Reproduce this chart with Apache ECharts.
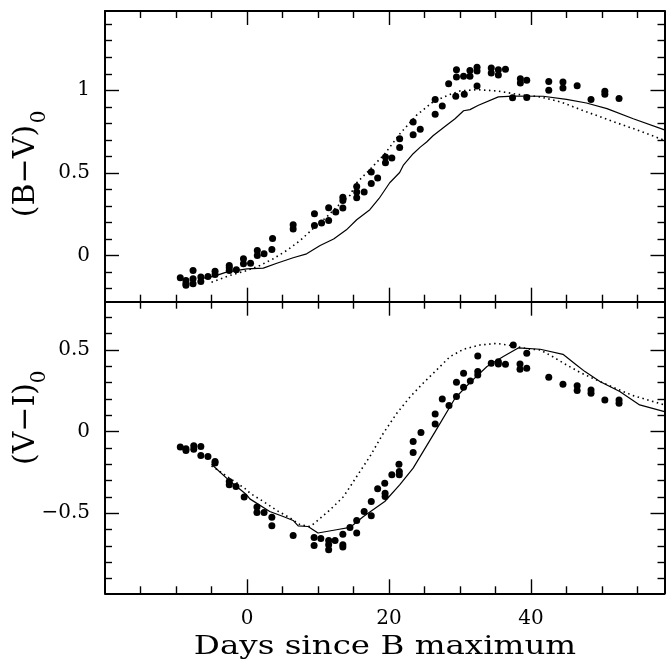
<!DOCTYPE html>
<html><head><meta charset="utf-8">
<script src="https://cdn.jsdelivr.net/npm/echarts@6/dist/echarts.min.js"></script>
<style>html,body{margin:0;padding:0;background:#fff}#c{width:666px;height:669px}</style>
</head><body><div id="c"></div>
<script>
// ---- tick labels / tick positions ----
const xTicksMajor = [0, 20, 40];
const xTicksMinor = [-15, -10, -5, 5, 10, 15, 25, 30, 35, 45, 50, 55];
const bvTicksMajor = [0, 0.5, 1];
const bvTicksMinor = [-0.2, -0.1, 0.1, 0.2, 0.3, 0.4, 0.6, 0.7, 0.8, 0.9, 1.1, 1.2, 1.3, 1.4];
const viTicksMajor = [-0.5, 0, 0.5];
const viTicksMinor = [-0.9, -0.8, -0.7, -0.6, -0.4, -0.3, -0.2, -0.1, 0.1, 0.2, 0.3, 0.4, 0.6, 0.7];

// ---- (B-V)0 observed ----
const bvObs = [
[-9.4,-0.135],[-8.6,-0.152],[-8.6,-0.18],[-8.6,-0.17],[-7.6,-0.091],[-7.6,-0.141],[-7.6,-0.172],
[-6.5,-0.13],[-6.5,-0.158],[-5.5,-0.127],[-4.5,-0.095],[-4.5,-0.115],[-2.5,-0.061],[-2.5,-0.091],
[-2.5,-0.075],[-1.5,-0.087],[-0.5,-0.02],[-0.5,-0.05],[0.5,-0.047],[1.45,0.03],[1.45,0.0],[2.4,0.01],
[3.5,0.036],[3.6,0.103],[6.5,0.186],[6.5,0.16],[9.5,0.253],[9.5,0.182],[10.5,0.196],[11.5,0.289],
[11.5,0.212],[12.5,0.263],[13.5,0.353],[13.5,0.333],[13.5,0.287],[15.45,0.418],[15.45,0.384],
[15.45,0.35],[16.5,0.384],[17.5,0.505],[17.5,0.435],[18.4,0.469],[19.5,0.596],[19.5,0.562],
[20.4,0.59],[21.5,0.707],[21.5,0.653],[23.4,0.808],[23.4,0.731],[24.4,0.764],[26.5,0.944],
[26.5,0.855],[27.5,0.905],[28.4,1.04],[29.5,1.125],[29.5,1.08],[29.4,0.964],[30.5,1.085],
[30.6,0.976],[31.4,1.12],[31.4,1.085],[32.4,1.14],[32.4,1.117],[32.4,1.026],[34.4,1.135],
[34.4,1.105],[35.4,1.125],[35.4,1.093],[36.4,1.127],[37.4,0.955],[38.5,1.07],[38.5,1.044],
[39.4,1.06],[39.4,0.956],[42.5,1.053],[42.5,1.0],[44.5,1.05],[44.5,1.014],[46.5,1.028],
[48.45,0.944],[50.4,0.994],[50.4,0.976],[52.4,0.95]
];
// ---- (B-V)0 models ----
const bvSolid = [
[-6.5,-0.14],[-4.7,-0.127],[-2.9,-0.101],[0,-0.081],[2.3,-0.077],[4.2,-0.047],[6.5,-0.014],
[8.4,0.01],[10.3,0.06],[12.2,0.1],[14,0.155],[15.45,0.216],[17.3,0.277],[18.6,0.345],[20.1,0.44],
[21.5,0.502],[22,0.545],[23.4,0.616],[24.4,0.656],[25.3,0.687],[26.2,0.725],[28.1,0.788],
[29.3,0.828],[30.5,0.876],[31.4,0.883],[32.6,0.909],[35.4,0.96],[37.5,0.965],[41.7,0.964],
[45,0.945],[47.8,0.923],[50.7,0.889],[54.4,0.828],[58.8,0.76]
];
const bvDotted = [
[-5,-0.162],[-2.4,-0.121],[0,-0.091],[1.8,-0.061],[3.7,-0.02],[5.6,0.03],[7.5,0.091],[9.3,0.162],
[11.2,0.232],[12.6,0.293],[14.5,0.364],[15.45,0.44],[17.3,0.52],[19.4,0.615],[21.5,0.735],
[23.9,0.85],[26.2,0.93],[28.6,0.975],[30,0.996],[32.4,1.004],[35.2,0.996],[38,0.976],[41.3,0.96],
[44.1,0.93],[47.8,0.87],[51.6,0.81],[54.4,0.768],[58.8,0.697]
];
// ---- (V-I)0 observed ----
const viObs = [
[-9.4,-0.095],[-8.6,-0.116],[-8.6,-0.105],[-7.5,-0.087],[-7.5,-0.108],[-6.5,-0.092],[-6.5,-0.147],
[-5.5,-0.153],[-4.5,-0.183],[-4.5,-0.193],[-2.5,-0.306],[-2.5,-0.326],[-1.55,-0.336],[-0.4,-0.401],
[1.4,-0.462],[1.4,-0.495],[2.4,-0.495],[3.5,-0.524],[3.5,-0.577],[6.5,-0.636],[9.45,-0.648],
[9.45,-0.697],[10.4,-0.654],[11.5,-0.667],[11.5,-0.693],[11.5,-0.724],[12.4,-0.667],[13.5,-0.693],
[13.5,-0.707],[13.5,-0.628],[14.5,-0.587],[15.45,-0.544],[15.45,-0.621],[16.5,-0.489],[17.5,-0.428],
[17.5,-0.516],[18.4,-0.35],[19.4,-0.316],[19.45,-0.377],[19.45,-0.398],[20.4,-0.265],[21.4,-0.2],
[21.45,-0.245],[21.45,-0.265],[23.4,-0.061],[23.4,-0.128],[24.5,-0.006],[26.5,0.108],[26.5,0.047],
[27.5,0.2],[28.45,0.159],[29.5,0.302],[29.5,0.214],[30.5,0.357],[30.5,0.272],[31.45,0.31],
[32.5,0.463],[32.5,0.367],[32.5,0.347],[34.4,0.418],[35.4,0.428],[35.4,0.414],[36.4,0.412],
[37.5,0.53],[38.45,0.414],[38.45,0.382],[39.4,0.48],[39.4,0.388],[42.5,0.333],[44.5,0.29],
[46.5,0.281],[46.5,0.251],[48.45,0.255],[48.45,0.235],[50.4,0.194],[52.4,0.194],[52.4,0.174]
];
// ---- (V-I)0 models ----
const viSolid = [
[-5,-0.2],[-2.5,-0.3],[-0.05,-0.387],[0.4,-0.412],[3.2,-0.489],[5.1,-0.52],[6.5,-0.544],
[7.2,-0.577],[8.6,-0.581],[10,-0.621],[12.6,-0.601],[14.5,-0.587],[16.4,-0.52],[19.4,-0.428],
[21.5,-0.326],[23.4,-0.224],[26.5,0],[29.3,0.204],[31.4,0.3],[33.8,0.398],[36.1,0.459],
[38.2,0.512],[41.3,0.504],[44.5,0.473],[46.4,0.408],[47.6,0.367],[49.7,0.306],[52.5,0.245],
[55.3,0.163],[58.8,0.122]
];
const viDotted = [
[-5,-0.21],[0,-0.357],[0.4,-0.377],[2.3,-0.428],[4.2,-0.483],[6.1,-0.53],[7.5,-0.571],[8.9,-0.581],
[9.8,-0.55],[11.7,-0.479],[13.6,-0.398],[15.45,-0.275],[17.3,-0.153],[19.2,-0.01],[21.1,0.112],
[23,0.214],[24.8,0.296],[26.7,0.377],[28.6,0.459],[30.5,0.504],[32.8,0.53],[35.2,0.54],[37.5,0.524],
[39.9,0.504],[41.3,0.5],[43,0.46],[45,0.408],[47,0.36],[49,0.32],[51.6,0.27],[54.4,0.22],[58.8,0.163]
];

const FONT = 'DejaVu Serif';
const lineSt = {color:'#000', width:2};
const tickSt = {color:'#000', width:1.4};
const fmt = v => String(v).replace('-', '\u2212');

function xAxes(g, showLabels) {
  const base = {gridIndex:g, type:'value', min:-20, max:58.8, splitLine:{show:false}};
  const arr = [];
  ['bottom','top'].forEach(pos => {
    arr.push(Object.assign({}, base, {position:pos,
      axisLine:{show:true, onZero:false, lineStyle:lineSt},
      axisTick:{show:true, inside:true, length:14, customValues:xTicksMajor, lineStyle:tickSt},
      axisLabel:{show: showLabels && pos==='bottom', customValues:xTicksMajor, margin:15,
        fontFamily:FONT, fontSize:20, color:'#000', formatter:fmt}}));
    arr.push(Object.assign({}, base, {position:pos,
      axisLine:{show:false, onZero:false},
      axisTick:{show:true, inside:true, length:7, customValues:xTicksMinor, lineStyle:tickSt},
      axisLabel:{show:false}}));
  });
  return arr;
}
function yAxes(g, min, max, major, minor) {
  const base = {gridIndex:g, type:'value', min:min, max:max, splitLine:{show:false}};
  const arr = [];
  ['left','right'].forEach(pos => {
    arr.push(Object.assign({}, base, {position:pos,
      axisLine:{show:true, onZero:false, lineStyle:lineSt},
      axisTick:{show:true, inside:true, length:14, customValues:major, lineStyle:tickSt},
      axisLabel:{show: pos==='left', customValues:major, margin:15,
        fontFamily:FONT, fontSize:20, color:'#000', formatter:fmt}}));
    arr.push(Object.assign({}, base, {position:pos,
      axisLine:{show:false, onZero:false},
      axisTick:{show:true, inside:true, length:7, customValues:minor, lineStyle:tickSt},
      axisLabel:{show:false}}));
  });
  return arr;
}

function lineSeries(data, xi, yi, dotted) {
  return {type:'line', data:data, xAxisIndex:xi, yAxisIndex:yi, showSymbol:false, symbol:'none',
    smooth:false, z:2, silent:true,
    lineStyle: dotted ? {color:'#000', width:1.6, type:[1.5,3.5], opacity:1} : {color:'#000', width:1.2, opacity:1}};
}
function dotSeries(data, xi, yi) {
  return {type:'scatter', data:data, xAxisIndex:xi, yAxisIndex:yi, symbol:'circle', symbolSize:7,
    itemStyle:{color:'#000', opacity:1}, z:3, silent:true};
}

const chart = echarts.init(document.getElementById('c'), null, {renderer:'canvas'});
chart.setOption({
  animation:false,
  backgroundColor:'#fff',
  grid:[
    {left:105, top:11, width:559.5, height:290.7, outerBoundsMode:'none', containLabel:false},
    {left:105, top:301.7, width:559.5, height:291.6, outerBoundsMode:'none', containLabel:false}
  ],
  xAxis: xAxes(0, false).concat(xAxes(1, true)),
  yAxis: yAxes(0, -0.28, 1.48, bvTicksMajor, bvTicksMinor).concat(yAxes(1, -0.99, 0.795, viTicksMajor, viTicksMinor)),
  series:[
    lineSeries(bvSolid, 0, 0, false),
    lineSeries(bvDotted, 0, 0, true),
    dotSeries(bvObs, 0, 0),
    lineSeries(viSolid, 4, 4, false),
    lineSeries(viDotted, 4, 4, true),
    dotSeries(viObs, 4, 4)
  ],
  graphic:[
    {type:'text', x:26, y:171, rotation:Math.PI/2,
      style:{text:'(B\u2212V)', font:'30px "DejaVu Serif"', fill:'#000', align:'center', verticalAlign:'middle'}},
    {type:'text', x:40, y:117, rotation:Math.PI/2,
      style:{text:'0', font:'20px "DejaVu Serif"', fill:'#000', align:'center', verticalAlign:'middle'}},
    {type:'text', x:26, y:424, rotation:Math.PI/2,
      style:{text:'(V\u2212I)', font:'30px "DejaVu Serif"', fill:'#000', align:'center', verticalAlign:'middle'}},
    {type:'text', x:40, y:377, rotation:Math.PI/2,
      style:{text:'0', font:'20px "DejaVu Serif"', fill:'#000', align:'center', verticalAlign:'middle'}},
    {type:'text', x:385, y:647, scaleX:1.25, originX:0, originY:0,
      style:{text:'Days since B maximum', font:'26px "DejaVu Serif"', fill:'#000', align:'center', verticalAlign:'middle'}}
  ]
});
</script></body></html>
